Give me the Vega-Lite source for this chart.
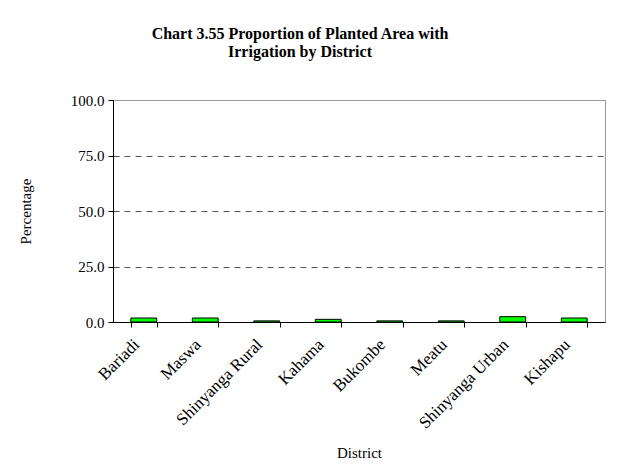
{
  "$schema": "https://vega.github.io/schema/vega-lite/v6.json",
  "width": 492,
  "height": 222,
  "autosize": {"type": "none"},
  "padding": {"left": 113, "top": 100, "right": 14, "bottom": 149},
  "background": "white",
  "title": {
    "text": ["Chart 3.55 Proportion of Planted Area with", "Irrigation by District"],
    "font": "Liberation Serif",
    "fontSize": 16,
    "fontWeight": "bold",
    "color": "black",
    "anchor": "middle",
    "dx": -59,
    "offset": 33,
    "lineHeight": 18
  },
  "data": {
    "values": [
      {"District": "Bariadi", "Percentage": 1.8},
      {"District": "Maswa", "Percentage": 1.8},
      {"District": "Shinyanga Rural", "Percentage": 0.5},
      {"District": "Kahama", "Percentage": 1.2},
      {"District": "Bukombe", "Percentage": 0.5},
      {"District": "Meatu", "Percentage": 0.5},
      {"District": "Shinyanga Urban", "Percentage": 2.4},
      {"District": "Kishapu", "Percentage": 1.8}
    ]
  },
  "mark": {"type": "bar", "color": "#00ff00", "stroke": "black", "strokeWidth": 1},
  "encoding": {
    "x": {
      "field": "District",
      "type": "nominal",
      "sort": null,
      "scale": {"paddingInner": 0.58, "paddingOuter": 0.29},
      "axis": {
        "labelAngle": -45,
        "labelFont": "Liberation Serif",
        "labelFontSize": 17,
        "labelColor": "black",
        "labelPadding": 9,
        "labelOffset": -13,
        "tickBand": "extent",
        "tickColor": "black",
        "tickSize": 5,
        "domainColor": "black",
        "title": "District",
        "titleFont": "Liberation Serif",
        "titleFontSize": 15,
        "titleFontWeight": "normal",
        "titleColor": "black",
        "titleY": 123,
        "titleBaseline": "top"
      }
    },
    "y": {
      "field": "Percentage",
      "type": "quantitative",
      "scale": {"domain": [0, 100], "nice": false},
      "axis": {
        "values": [0, 25, 50, 75, 100],
        "format": ".1f",
        "labelFont": "Liberation Serif",
        "labelFontSize": 15,
        "labelColor": "black",
        "labelPadding": 4,
        "tickColor": "black",
        "tickSize": 5,
        "domainColor": "black",
        "grid": true,
        "gridColor": {"condition": {"test": "datum.value === 100", "value": "#999999"}, "value": "#555555"},
        "gridDash": {"condition": {"test": "datum.value === 100", "value": []}, "value": [6, 5]},
        "title": "Percentage",
        "titleFont": "Liberation Serif",
        "titleFontSize": 15,
        "titleFontWeight": "normal",
        "titleColor": "black",
        "titleX": -88,
        "titleBaseline": "middle"
      }
    }
  },
  "config": {
    "view": {"stroke": "#999999", "strokeWidth": 1}
  }
}
